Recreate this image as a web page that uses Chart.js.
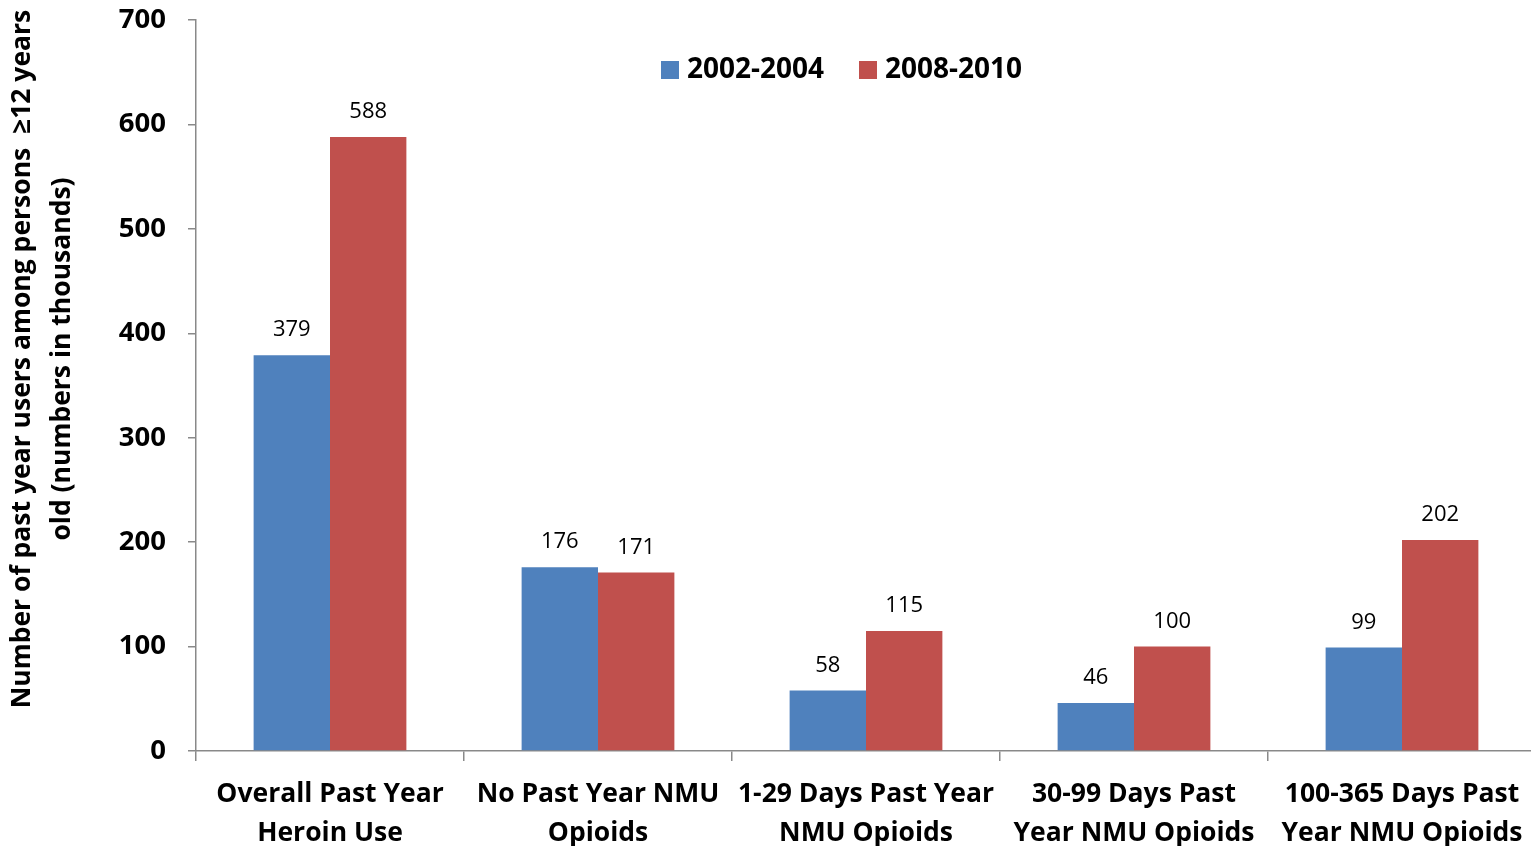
<!DOCTYPE html>
<html>
<head>
<meta charset="utf-8">
<script src="https://cdn.jsdelivr.net/npm/chart.js@4/dist/chart.umd.min.js"></script>
<style>
  html, body { margin: 0; padding: 0; background: #fff; overflow: hidden; }
  #wrap { width: 1536px; height: 846px; }
</style>
</head>
<body>
<div id="wrap"><canvas id="chart"></canvas></div>
<script>
const categories = [
    ['Overall Past Year', 'Heroin Use'],
    ['No Past Year NMU', 'Opioids'],
    ['1-29 Days Past Year', 'NMU Opioids'],
    ['30-99 Days Past', 'Year NMU Opioids'],
    ['100-365 Days Past', 'Year NMU Opioids']
];
const series2002 = [379, 176, 58, 46, 99];
const series2008 = [588, 171, 115, 100, 202];
const seriesNames = ['2002-2004', '2008-2010'];
const yTicks = [0, 100, 200, 300, 400, 500, 600, 700];
const yTitle = ['Number of past year users among persons  \u226512 years', 'old (numbers in thousands)'];

const FONT = '"Open Sans", sans-serif';
const axisColor = '#898989';

// value labels above each bar
const barLabels = {
    id: 'barLabels',
    afterDatasetsDraw(chart) {
        const ctx = chart.ctx;
        ctx.save();
        ctx.font = '22px ' + FONT;
        ctx.fillStyle = '#000';
        ctx.textAlign = 'center';
        ctx.textBaseline = 'middle';
        chart.data.datasets.forEach((ds, i) => {
            chart.getDatasetMeta(i).data.forEach((bar, j) => {
                ctx.fillText(ds.data[j], bar.x, bar.y - 25);
            });
        });
        ctx.restore();
    }
};

// legend drawn inside the plot, near the top
const innerLegend = {
    id: 'innerLegend',
    afterDraw(chart) {
        const ctx = chart.ctx;
        const xs = [661, 859];
        ctx.save();
        ctx.font = 'bold 28px ' + FONT;
        ctx.textBaseline = 'middle';
        ctx.textAlign = 'left';
        chart.data.datasets.forEach((ds, i) => {
            ctx.fillStyle = ds.backgroundColor;
            ctx.fillRect(xs[i], 61, 18, 18);
            ctx.fillStyle = '#000';
            ctx.fillText(ds.label, xs[i] + 26, 70);
        });
        ctx.restore();
    }
};

// two-line rotated y axis title
const yAxisTitle = {
    id: 'yAxisTitle',
    afterDraw(chart) {
        const ctx = chart.ctx;
        ctx.save();
        ctx.font = 'bold 26.5px ' + FONT;
        ctx.fillStyle = '#000';
        ctx.textAlign = 'center';
        ctx.textBaseline = 'middle';
        const xs = [22, 62];
        yTitle.forEach((line, i) => {
            ctx.save();
            ctx.translate(xs[i], 359);
            ctx.rotate(-Math.PI / 2);
            ctx.fillText(line, 0, 0);
            ctx.restore();
        });
        ctx.restore();
    }
};

new Chart(document.getElementById('chart'), {
    type: 'bar',
    data: {
        labels: categories,
        datasets: [
            { label: seriesNames[0], data: series2002, backgroundColor: '#4F81BD' },
            { label: seriesNames[1], data: series2008, backgroundColor: '#C0504D' }
        ]
    },
    options: {
        responsive: true,
        maintainAspectRatio: false,
        animation: false,
        events: [],
        layout: { padding: { top: 20, right: 0, left: 0, bottom: 0 } },
        datasets: {
            bar: { categoryPercentage: 0.57, barPercentage: 1.0 }
        },
        plugins: {
            legend: { display: false },
            tooltip: { enabled: false }
        },
        scales: {
            x: {
                grid: {
                    offset: true,
                    drawOnChartArea: false,
                    drawTicks: true,
                    tickLength: 10,
                    color: axisColor,
                    lineWidth: 1.5
                },
                border: { color: axisColor, width: 1.5 },
                ticks: {
                    color: '#000',
                    font: { family: FONT, size: 26.5, weight: 'bold', lineHeight: 1.47 },
                    padding: 14,
                    maxRotation: 0,
                    autoSkip: false
                },
                afterFit(scale) {
                    scale.height = 95;
                    scale.paddingLeft = 0;
                    scale.paddingRight = 0;
                }
            },
            y: {
                min: 0,
                max: 700,
                afterBuildTicks(scale) { scale.ticks = yTicks.map(v => ({ value: v })); },
                grid: {
                    drawOnChartArea: false,
                    drawTicks: true,
                    tickLength: 8,
                    color: axisColor,
                    lineWidth: 1.5
                },
                border: { color: axisColor, width: 1.5 },
                ticks: {
                    color: '#000',
                    font: { family: FONT, size: 27.5, weight: 'bold' },
                    padding: 22
                },
                afterFit(scale) {
                    scale.width = 196;
                    scale.paddingTop = 0;
                    scale.paddingBottom = 0;
                }
            }
        }
    },
    plugins: [barLabels, innerLegend, yAxisTitle]
});
</script>
</body>
</html>
